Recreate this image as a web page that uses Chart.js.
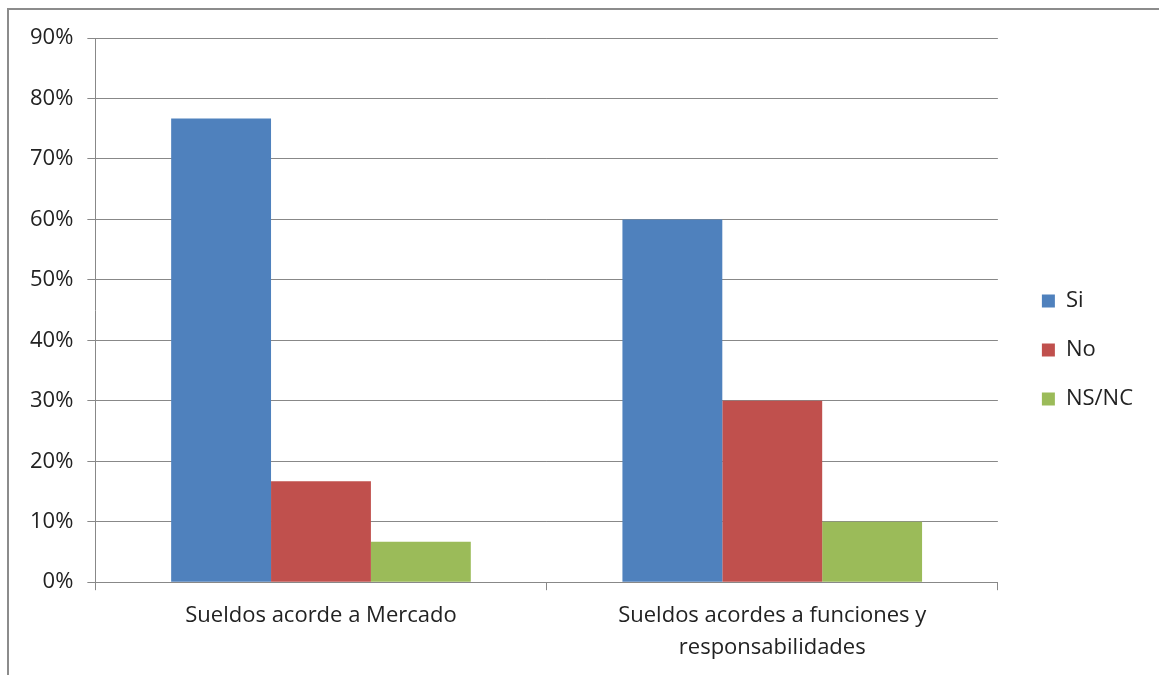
<!DOCTYPE html>
<html>
<head>
<meta charset="utf-8">
<script src="https://cdn.jsdelivr.net/npm/chart.js@4/dist/chart.umd.min.js"></script>
<style>
  html, body { margin: 0; padding: 0; background: #fff; overflow: hidden; }
  #frame {
    position: absolute; left: 7px; top: 8px;
    width: 1160px; height: 680px;
    border-top: 2px solid #8c8c8c; border-left: 2px solid #8c8c8c;
  }
  #wrap { position: absolute; left: 0; top: 0; width: 1150px; height: 665px; }
</style>
</head>
<body>
<div id="frame"><div id="wrap"><canvas id="myChart"></canvas></div></div>
<script>
let labels = ['Sueldos acorde a Mercado', ['Sueldos acordes a funciones y', 'responsabilidades']];
let si = [76.7, 60];
let no = [16.7, 30];
let nsnc = [6.7, 10];
let colorHex = ['#4F81BD', '#C0504D', '#9BBB59'];
let fontFamily = "'Open Sans', 'Noto Sans', sans-serif";

// push the legend a bit further away from the plot
let legendShift = {
  id: 'legendShift',
  afterLayout: (chart) => {
    chart.legend.left += 17;
    chart.legend.right += 17;
    chart.legend.top -= 6;
    chart.legend.bottom -= 6;
  }
};

let ctx = document.getElementById('myChart').getContext('2d');

let myChart = new Chart(ctx, {
  type: 'bar',
  data: {
    labels: labels,
    datasets: [
      { label: 'Si', data: si, backgroundColor: colorHex[0] },
      { label: 'No', data: no, backgroundColor: colorHex[1] },
      { label: 'NS/NC', data: nsnc, backgroundColor: colorHex[2] }
    ]
  },
  plugins: [legendShift],
  options: {
    responsive: true,
    maintainAspectRatio: false,
    animation: false,
    categoryPercentage: 0.664,
    barPercentage: 1,
    layout: {
      padding: { left: 7, top: 28, right: 33, bottom: 1 }
    },
    plugins: {
      tooltip: { enabled: false },
      legend: {
        position: 'right',
        labels: {
          boxWidth: 13,
          boxHeight: 13,
          padding: 27,
          color: '#222',
          font: { family: fontFamily, size: 22 }
        }
      }
    },
    scales: {
      x: {
        grid: {
          drawOnChartArea: false,
          drawTicks: true,
          tickLength: 8,
          color: '#888'
        },
        border: { color: '#888' },
        ticks: {
          color: '#222',
          padding: 10,
          font: { family: fontFamily, size: 22, lineHeight: 1.45 }
        }
      },
      y: {
        min: 0,
        max: 90,
        grid: { color: '#888', tickLength: 8 },
        border: { color: '#888' },
        ticks: {
          stepSize: 10,
          color: '#222',
          padding: 14,
          font: { family: fontFamily, size: 22 },
          callback: (value) => value + '%'
        }
      }
    }
  }
});
</script>
</body>
</html>
